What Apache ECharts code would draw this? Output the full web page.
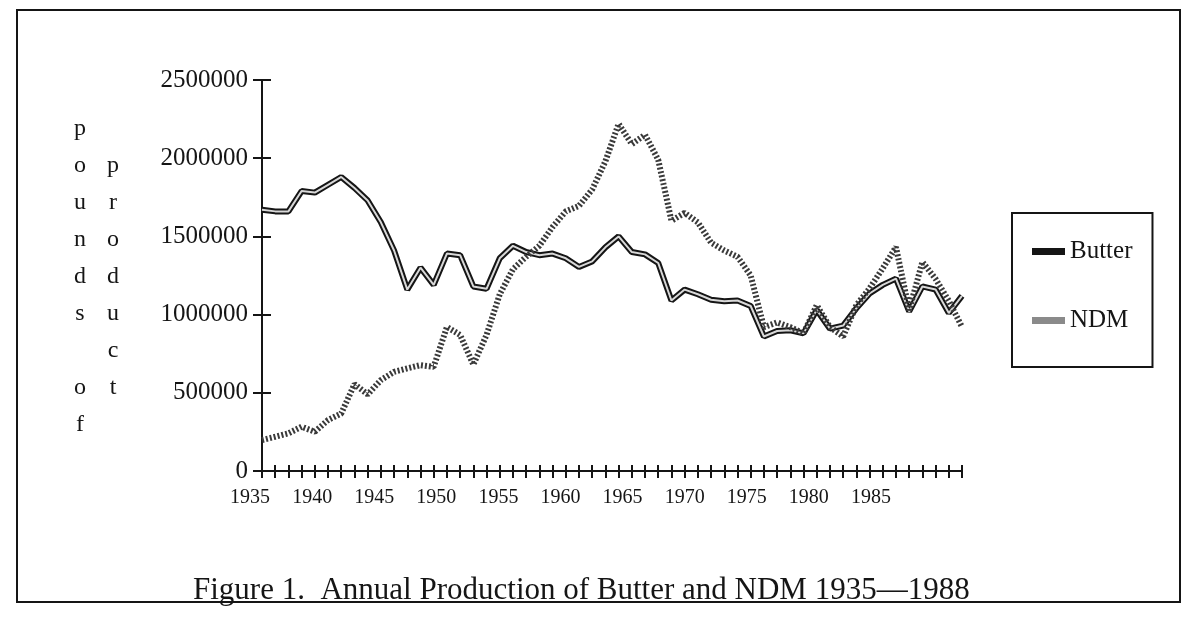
<!DOCTYPE html>
<html>
<head>
<meta charset="utf-8">
<title>Annual Production of Butter and NDM</title>
<script src="https://cdn.jsdelivr.net/npm/echarts@6/dist/echarts.min.js"></script>
<style>
  html, body { margin: 0; padding: 0; background: #fff; }
  #main { width: 1183px; height: 623px; }
</style>
</head>
<body>
<div id="main"></div>
<script>
var years = [];
for (var y = 1935; y <= 1988; y++) years.push(String(y));

var yearLabels = ['1935', '1940', '1945', '1950', '1955', '1960', '1965', '1970', '1975', '1980', '1985'];

var yTicks = [0, 500000, 1000000, 1500000, 2000000, 2500000];

var butter = [
  1670000, 1660000, 1660000, 1790000, 1780000, 1830000, 1880000, 1810000, 1730000, 1590000,
  1410000, 1160000, 1300000, 1190000, 1390000, 1380000, 1180000, 1165000, 1360000, 1440000,
  1400000, 1380000, 1390000, 1360000, 1305000, 1340000, 1430000, 1500000, 1400000, 1385000,
  1330000, 1090000, 1160000, 1130000, 1095000, 1085000, 1090000, 1055000, 860000, 895000,
  900000, 880000, 1030000, 910000, 930000, 1040000, 1135000, 1190000, 1230000, 1020000,
  1180000, 1160000, 1010000, 1120000
];

var ndm = [
  198000, 219000, 241000, 283000, 251000, 326000, 368000, 555000, 490000, 581000,
  634000, 656000, 677000, 666000, 921000, 870000, 680000, 870000, 1130000, 1290000,
  1370000, 1440000, 1560000, 1660000, 1695000, 1800000, 1980000, 2220000, 2090000, 2150000,
  1990000, 1600000, 1650000, 1590000, 1460000, 1410000, 1370000, 1250000, 920000, 950000,
  920000, 880000, 1060000, 920000, 860000, 1060000, 1168000, 1296000, 1432000, 1028000,
  1337000, 1228000, 1088000, 921000
];

var serif = '"Liberation Serif", "DejaVu Serif", serif';
var ink = '#151515';

var myChart = echarts.init(document.getElementById('main'));

var option = {
  backgroundColor: '#fff',
  animation: false,
  title: {
    text: 'Figure 1.  Annual Production of Butter and NDM 1935\u20141988',
    left: 188,
    top: 570,
    textStyle: { fontFamily: serif, fontSize: 31, fontWeight: 'normal', color: ink }
  },
  legend: {
    orient: 'vertical',
    left: 1012,
    top: 213,
    data: [
      { name: 'Butter', icon: 'rect', itemStyle: { color: ink } },
      { name: 'NDM', icon: 'rect', itemStyle: { color: '#8a8a8a' } }
    ],
    borderColor: ink,
    borderWidth: 2,
    padding: [26, 20, 34, 20],
    itemGap: 44,
    itemWidth: 33,
    itemHeight: 7,
    textStyle: { fontFamily: serif, fontSize: 25, color: ink }
  },
  graphic: [
    {
      type: 'rect',
      shape: { x: 17, y: 10, width: 1163, height: 592 },
      style: { fill: 'none', stroke: ink, lineWidth: 2 }
    },
    {
      type: 'text',
      x: 80, y: 110,
      style: {
        text: 'p\no\nu\nn\nd\ns\n \no\nf',
        font: '24px ' + serif,
        lineHeight: 37,
        align: 'center',
        verticalAlign: 'top',
        fill: ink
      }
    },
    {
      type: 'text',
      x: 113, y: 147,
      style: {
        text: 'p\nr\no\nd\nu\nc\nt',
        font: '24px ' + serif,
        lineHeight: 37,
        align: 'center',
        verticalAlign: 'top',
        fill: ink
      }
    }
  ],
  grid: [
    { left: 262, right: 221, top: 80, bottom: 152 },
    { left: 219, width: 683, top: 80, bottom: 152 }
  ],
  xAxis: [
    {
      type: 'category',
      gridIndex: 0,
      position: 'bottom',
      data: years,
      boundaryGap: false,
      axisLine: { lineStyle: { color: ink, width: 2 } },
      axisTick: { interval: 0, length: 7, lineStyle: { color: ink, width: 2 } },
      axisLabel: { show: false },
      splitLine: { show: false }
    },
    {
      type: 'category',
      gridIndex: 0,
      position: 'bottom',
      data: years,
      boundaryGap: false,
      axisLine: { show: false },
      axisTick: { interval: 0, inside: true, length: 6, lineStyle: { color: ink, width: 2 } },
      axisLabel: { show: false }
    },
    {
      type: 'category',
      gridIndex: 1,
      data: yearLabels,
      boundaryGap: true,
      axisLine: { show: false },
      axisTick: { show: false },
      axisLabel: { margin: 17, fontFamily: serif, fontSize: 20, color: ink }
    }
  ],
  yAxis: [
    {
      type: 'value',
      gridIndex: 0,
      position: 'left',
      min: yTicks[0],
      max: yTicks[yTicks.length - 1],
      interval: yTicks[1] - yTicks[0],
      axisLine: { show: true, lineStyle: { color: ink, width: 2 } },
      axisTick: { show: true, length: 9, lineStyle: { color: ink, width: 2 } },
      axisLabel: {
        margin: 14,
        fontFamily: serif,
        fontSize: 25,
        color: ink,
        formatter: function (v) { return String(v); }
      },
      splitLine: { show: false }
    },
    {
      type: 'value',
      gridIndex: 0,
      position: 'left',
      offset: 0,
      min: yTicks[0],
      max: yTicks[yTicks.length - 1],
      interval: yTicks[1] - yTicks[0],
      axisLine: { show: false },
      axisTick: { show: true, inside: true, length: 9, lineStyle: { color: ink, width: 2 } },
      axisLabel: { show: false },
      splitLine: { show: false }
    },
    {
      type: 'value',
      gridIndex: 1,
      show: false
    }
  ],
  series: [
    {
      name: 'Butter',
      type: 'line',
      data: butter,
      symbol: 'none',
      lineStyle: { color: ink, width: 6 },
      itemStyle: { color: ink }
    },
    {
      name: 'Butter core',
      type: 'line',
      data: butter,
      symbol: 'none',
      silent: true,
      lineStyle: { color: '#d8d8d8', width: 2 }
    },
    {
      name: 'NDM',
      type: 'line',
      data: ndm,
      symbol: 'none',
      lineStyle: { color: '#3a3a3a', width: 6, type: [2, 2] },
      itemStyle: { color: '#3a3a3a' }
    }
  ]
};

myChart.setOption(option);
</script>
</body>
</html>
